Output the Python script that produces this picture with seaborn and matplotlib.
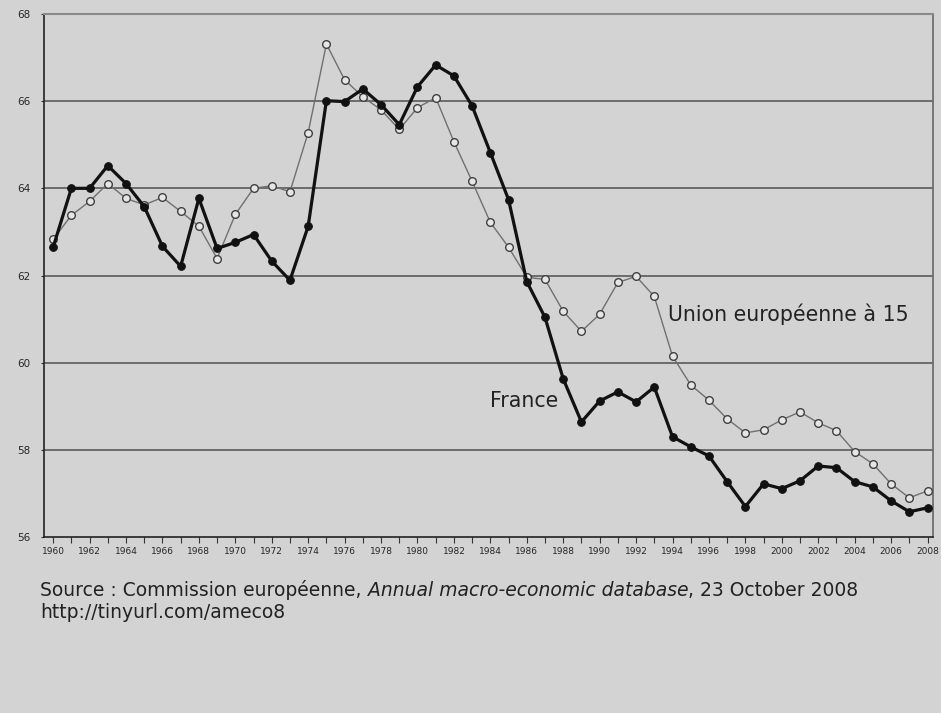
import seaborn as sns
import matplotlib.pyplot as plt
import numpy as np
import pandas as pd

sns.set_style("white")
plt.rcParams['font.family'] = ['DejaVu Sans']

# data
years = list(range(1960, 2009))
france = [62.65, 64.0, 64.0, 64.52, 64.11, 63.58, 62.67, 62.21, 63.77, 62.62,
          62.76, 62.94, 62.33, 61.89, 63.13, 66.01, 65.99, 66.28, 65.92, 65.46,
          66.33, 66.83, 66.58, 65.89, 64.82, 63.74, 61.86, 61.04, 59.63, 58.64,
          59.12, 59.33, 59.10, 59.44, 58.30, 58.07, 57.86, 57.27, 56.70, 57.22,
          57.11, 57.29, 57.63, 57.59, 57.27, 57.15, 56.83, 56.58, 56.67]
ue15 = [62.83, 63.38, 63.70, 64.11, 63.77, 63.62, 63.79, 63.47, 63.13, 62.39,
        63.40, 64.00, 64.06, 63.92, 65.28, 67.31, 66.49, 66.10, 65.80, 65.35,
        65.85, 66.08, 65.07, 64.16, 63.22, 62.65, 61.96, 61.91, 61.18, 60.72,
        61.11, 61.84, 61.98, 61.52, 60.15, 59.49, 59.14, 58.71, 58.39, 58.46,
        58.69, 58.87, 58.62, 58.44, 57.96, 57.68, 57.22, 56.90, 57.06]
y_ticks = [56, 58, 60, 62, 64, 66, 68]
x_ticks = list(range(1960, 2009, 2))

bg = '#d3d3d3'
fig = plt.figure(figsize=(9.41, 7.13), dpi=100, facecolor=bg)
ax = fig.add_axes([0.0468, 0.2468, 0.9447, 0.7336], facecolor=bg)

data = pd.DataFrame({'year': years, 'france': france, 'ue15': ue15})

# gridlines behind the data
for y in y_ticks[1:-1]:
    ax.axhline(y, color='#505050', lw=1.1, zorder=1)

sns.lineplot(data=data, x='year', y='ue15', ax=ax, color='#707070', lw=1,
             marker='o', markersize=5.5, markerfacecolor='#e6e6e6',
             markeredgecolor='#404040', markeredgewidth=1, zorder=3)
sns.lineplot(data=data, x='year', y='france', ax=ax, color='#111111', lw=2.3,
             marker='o', markersize=5.5, markerfacecolor='#111111',
             markeredgecolor='#111111', zorder=4)

ax.set_xlim(1959.5, 2008.3)
ax.set_ylim(56, 68)
ax.set_xlabel('')
ax.set_ylabel('')
ax.set_yticks(y_ticks)
ax.set_xticks(x_ticks)
ax.set_xticks(years, minor=True)
ax.tick_params(axis='x', which='both', direction='out', length=4, width=0.8,
               color='#333333', labelsize=6.5, pad=3, bottom=True)
ax.tick_params(axis='y', direction='out', length=2, width=0.8,
               color='#333333', labelsize=7.5, pad=8, left=True)

for side in ['left', 'bottom']:
    ax.spines[side].set_color('#222222')
    ax.spines[side].set_linewidth(1.2)
ax.spines['top'].set_color('#8a8a8a')
ax.spines['top'].set_linewidth(1.5)
ax.spines['right'].set_color('#666666')
ax.spines['right'].set_linewidth(1.2)

ax.text(1993.75, 61.12, 'Union européenne à 15', fontsize=14.8,
        color='#222222', va='center', ha='left')
ax.text(1984.0, 59.12, 'France', fontsize=14.8, color='#222222',
        va='center', ha='left')

t1 = fig.text(0.043, 0.164, 'Source : Commission européenne, ', fontsize=13.5,
              color='#222222', va='baseline')
t2 = ax.annotate('Annual macro-economic database', xy=(1, 0), xycoords=t1,
                 fontsize=13.5, style='italic', color='#222222',
                 va='bottom', annotation_clip=False)
ax.annotate(', 23 October 2008', xy=(1, 0), xycoords=t2, fontsize=13.5,
            color='#222222', va='bottom', annotation_clip=False)
fig.text(0.043, 0.133, 'http://tinyurl.com/ameco8', fontsize=13.5,
         color='#222222', va='baseline')

fig.savefig('out.png', dpi=100, facecolor=bg)
